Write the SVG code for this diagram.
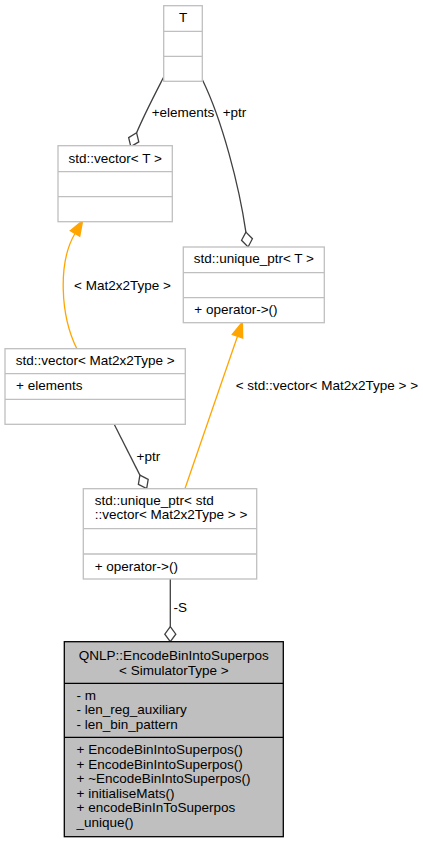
<svg xmlns="http://www.w3.org/2000/svg" width="423" height="843" viewBox="0 0 423 843">
<style>
text{font-family:"Liberation Sans",Arial,sans-serif;font-size:13.5px;fill:#000}
.m{text-anchor:middle}
.box{fill:#fff;stroke:#bfbfbf;stroke-width:1.3}
.sep{stroke:#bfbfbf;stroke-width:1.3}
.main{fill:#bfbfbf;stroke:#000;stroke-width:1.3}
.msep{stroke:#000;stroke-width:1.3}
.use{fill:none;stroke:#404040;stroke-width:1.3}
.tpl{fill:none;stroke:#ffa500;stroke-width:1.3}
</style>
<defs>
<marker id="dia" markerUnits="userSpaceOnUse" orient="auto" markerWidth="18" markerHeight="14" refX="0" refY="7" viewBox="0 0 18 14" overflow="visible">
<path d="M0,7 L7.5,1.5 L15,7 L7.5,12.5 Z" fill="#fff" stroke="#404040" stroke-width="1.3"/>
</marker>
<marker id="arr" markerUnits="userSpaceOnUse" orient="auto" markerWidth="18" markerHeight="14" refX="0" refY="7" viewBox="0 0 18 14" overflow="visible">
<path d="M0,1.5 L15,7 L0,12.5 Z" fill="#ffa500" stroke="#ffa500" stroke-width="1.3"/>
</marker>
</defs>
<g id="connectors">
<path class="use" d="M163.7,77 C155,94 144,115 136.6,132.8" marker-end="url(#dia)"/>
<path class="use" d="M202.5,80 C222,120 239,185 245.9,232.1" marker-end="url(#dia)"/>
<path class="tpl" d="M77,349 C60,315 58,262 75,233.5" marker-end="url(#arr)"/>
<path class="tpl" d="M185,488.5 L237.5,336.3" marker-end="url(#arr)"/>
<path class="use" d="M114.3,424.5 L139.9,475.1" marker-end="url(#dia)"/>
<path class="use" d="M170.3,579 L170.3,626.7" marker-end="url(#dia)"/>
<text x="151.7" y="117">+elements</text>
<text x="222.7" y="117">+ptr</text>
<text x="74" y="289.5">&lt; Mat2x2Type &gt;</text>
<text x="235.7" y="390">&lt; std::vector&lt; Mat2x2Type &gt; &gt;</text>
<text x="136.5" y="460.5">+ptr</text>
<text x="173.5" y="611.5">-S</text>
</g>
<g id="node-T">
<rect class="box" x="163.7" y="5.7" width="38.6" height="75.6"/>
<line class="sep" x1="163.7" y1="31.3" x2="202.3" y2="31.3"/>
<line class="sep" x1="163.7" y1="56.3" x2="202.3" y2="56.3"/>
<text class="m" x="183" y="22">T</text>
</g>
<g id="node-vectorT">
<rect class="box" x="58" y="145.7" width="114.3" height="76"/>
<line class="sep" x1="58" y1="171.7" x2="172.3" y2="171.7"/>
<line class="sep" x1="58" y1="196.7" x2="172.3" y2="196.7"/>
<text class="m" x="115.2" y="162.5">std::vector&lt; T &gt;</text>
</g>
<g id="node-uniqueptrT">
<rect class="box" x="183.3" y="247" width="141" height="75.7"/>
<line class="sep" x1="183.3" y1="272.7" x2="324.3" y2="272.7"/>
<line class="sep" x1="183.3" y1="297.7" x2="324.3" y2="297.7"/>
<text class="m" x="253.8" y="263.3">std::unique_ptr&lt; T &gt;</text>
<text x="194.3" y="313.5">+ operator-&gt;()</text>
</g>
<g id="node-vectorMat">
<rect class="box" x="5" y="348.7" width="180.3" height="75.6"/>
<line class="sep" x1="5" y1="373.7" x2="185.3" y2="373.7"/>
<line class="sep" x1="5" y1="399.3" x2="185.3" y2="399.3"/>
<text class="m" x="95.2" y="365">std::vector&lt; Mat2x2Type &gt;</text>
<text x="16" y="390">+ elements</text>
</g>
<g id="node-uniqueptrVector">
<rect class="box" x="83.3" y="488.7" width="173.4" height="90.3"/>
<line class="sep" x1="83.3" y1="528.7" x2="256.7" y2="528.7"/>
<line class="sep" x1="83.3" y1="554" x2="256.7" y2="554"/>
<text x="94.7" y="505">std::unique_ptr&lt; std</text>
<text x="94.7" y="518.7">::vector&lt; Mat2x2Type &gt; &gt;</text>
<text x="94.7" y="570.5">+ operator-&gt;()</text>
</g>
<g id="node-EncodeBinIntoSuperpos">
<rect class="main" x="64.3" y="641.7" width="219" height="195"/>
<line class="msep" x1="64.3" y1="683.3" x2="283.3" y2="683.3"/>
<line class="msep" x1="64.3" y1="737.3" x2="283.3" y2="737.3"/>
<text class="m" x="173.8" y="660">QNLP::EncodeBinIntoSuperpos</text>
<text class="m" x="173.8" y="674.5">&lt; SimulatorType &gt;</text>
<text x="76.5" y="699.5">- m</text>
<text x="76.5" y="714">- len_reg_auxiliary</text>
<text x="76.5" y="729">- len_bin_pattern</text>
<text x="76.5" y="754.3">+ EncodeBinIntoSuperpos()</text>
<text x="76.5" y="768.5">+ EncodeBinIntoSuperpos()</text>
<text x="76.5" y="783">+ ~EncodeBinIntoSuperpos()</text>
<text x="76.5" y="797.5">+ initialiseMats()</text>
<text x="76.5" y="812">+ encodeBinInToSuperpos</text>
<text x="76.5" y="826.5">_unique()</text>
</g>
</svg>
